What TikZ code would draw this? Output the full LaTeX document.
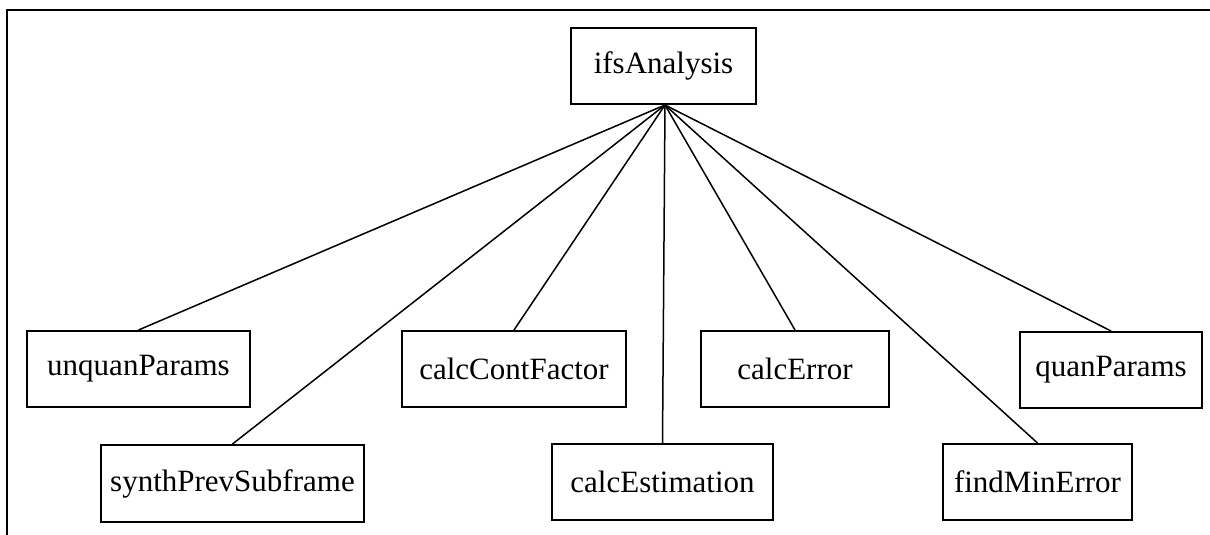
\documentclass[tikz,border=0pt]{standalone}
\usepackage{fontspec}
\setmainfont{Liberation Serif}
\begin{document}
\begin{tikzpicture}[x=0.5pt,y=-0.5pt,
  fn/.style={draw, line width=1pt, inner sep=0pt, align=center,
    font=\fontsize{15.5pt}{18pt}\selectfont},
  link/.style={line width=0.75pt},
  frame/.style={line width=1.2pt}]
\useasboundingbox (0,0) rectangle (1210,535);
% partial frame: top and left edges
\coordinate (fa) at (1210,10);
\coordinate (fb) at (7,10);
\coordinate (fc) at (7,535);
\draw[frame] (fa) -- (fb) -- (fc);
% root
\node[fn, minimum width=92.5pt, minimum height=38pt] (root) at (663.5,66) {ifsAnalysis};
% first row
\node[fn, minimum width=111.5pt, minimum height=38pt] (unquan) at (138.5,369) {unquanParams};
\node[fn, minimum width=112pt, minimum height=38pt] (cont) at (514,369) {calcContFactor};
\node[fn, minimum width=94pt, minimum height=38pt] (err) at (795,369) {calcError};
\node[fn, minimum width=91pt, minimum height=38pt] (quan) at (1111,370) {quanParams};
% second row
\node[fn, minimum width=131.5pt, minimum height=38.5pt] (synth) at (232.5,483.5) {synthPrevSubframe};
\node[fn, minimum width=110.5pt, minimum height=38pt] (est) at (662.5,482) {calcEstimation};
\node[fn, minimum width=94.5pt, minimum height=38pt] (minerr) at (1037.5,482) {findMinError};
% calls from the root
\coordinate (hub) at ([xshift=0.75pt]root.south);
\foreach \c in {unquan,synth,cont,est,err,minerr,quan}
  \draw[link] (hub) -- (\c.north);
\end{tikzpicture}
\end{document}
